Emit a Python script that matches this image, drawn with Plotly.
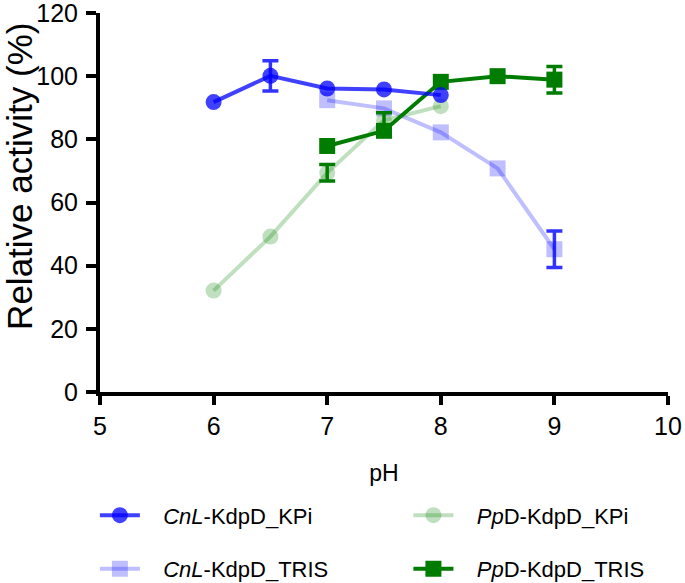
import plotly.graph_objects as go

ph_cnl_kpi = [6, 6.5, 7, 7.5, 8]
cnl_kpi = [91.8, 100.1, 96.1, 95.8, 94.0]
cnl_kpi_err = [None, 4.8, None, None, None]

ph_cnl_tris = [7, 7.5, 8, 8.5, 9]
cnl_tris = [92.4, 89.8, 82.2, 70.8, 45.2]
cnl_tris_err = [None, None, None, None, 5.8]

ph_pp_kpi = [6, 6.5, 7, 7.5, 8]
pp_kpi = [32.1, 49.2, 69.4, 86.0, 90.5]
pp_kpi_err = [None, None, 2.6, 2.4, None]

ph_pp_tris = [7, 7.5, 8, 8.5, 9]
pp_tris = [77.9, 82.7, 98.2, 100.0, 98.9]
pp_tris_err = [None, None, None, None, 4.2]

x_ticks = [5, 6, 7, 8, 9, 10]
y_ticks = [0, 20, 40, 60, 80, 100, 120]

BLUE = "rgba(0,0,255,0.75)"
BLUE_ERR = "rgba(0,0,255,0.8)"
LBLUE = "rgba(0,0,255,0.25)"
LGREEN = "rgba(0,128,0,0.25)"
GREEN = "#007c00"

FONT = "Liberation Sans, Arial"
PAD = "&nbsp;&nbsp;&nbsp;"

fig = go.Figure()


def add_series(x, y, e, name, color, symbol, err_color, legend, rank):
    fig.add_trace(go.Scatter(
        x=x, y=y, name=PAD + name, mode="lines+markers",
        line=dict(color=color, width=4), marker=dict(symbol=symbol, size=16, color=color),
        legend=legend, legendrank=rank, legendgroup=name))
    ex = [xi for xi, ei in zip(x, e) if ei is not None]
    ey = [yi for yi, ei in zip(y, e) if ei is not None]
    ee = [ei for ei in e if ei is not None]
    fig.add_trace(go.Scatter(
        x=ex, y=ey, mode="markers", marker=dict(size=1, color="rgba(0,0,0,0)"),
        error_y=dict(type="data", array=ee, visible=True, color=err_color, thickness=3.5, width=8),
        showlegend=False, hoverinfo="skip", legendgroup=name, legend=legend))


add_series(ph_cnl_tris, cnl_tris, cnl_tris_err, "<i>CnL</i>-KdpD_TRIS", LBLUE, "square", BLUE_ERR, "legend", 2)
add_series(ph_pp_kpi, pp_kpi, pp_kpi_err, "<i>Pp</i>D-KdpD_KPi", LGREEN, "circle", GREEN, "legend2", 1)
add_series(ph_pp_tris, pp_tris, pp_tris_err, "<i>Pp</i>D-KdpD_TRIS", GREEN, "square", GREEN, "legend2", 2)
add_series(ph_cnl_kpi, cnl_kpi, cnl_kpi_err, "<i>CnL</i>-KdpD_KPi", BLUE, "circle", BLUE_ERR, "legend", 1)

axis_common = dict(
    showline=True, linecolor="black", linewidth=4, ticks="outside",
    tickwidth=4, tickcolor="black", showgrid=False, zeroline=False, automargin=False,
    tickfont=dict(family=FONT, size=25, color="black"), ticklabeloverflow="allow",
)

leg_common = dict(xref="paper", yref="container", xanchor="left", yanchor="top", orientation="v",
                  tracegroupgap=22, font=dict(size=22), bgcolor="rgba(0,0,0,0)", itemwidth=40)

fig.update_layout(
    width=685, height=583,
    margin=dict(l=100, r=17, t=13, b=191),
    plot_bgcolor="white", paper_bgcolor="white",
    font=dict(family=FONT, color="black"),
    xaxis=dict(range=[5, 10], tickvals=x_ticks, ticklen=9, ticklabelstandoff=0,
               title=dict(text="pH", font=dict(size=23), standoff=27), **axis_common),
    yaxis=dict(range=[0, 120], tickvals=y_ticks, ticklen=10, ticklabelstandoff=3, **axis_common),
    annotations=[dict(text="Relative activity (%)", textangle=-90, xref="paper", yref="paper",
                      x=-0.141, y=0.57, xanchor="center", yanchor="middle", showarrow=False,
                      font=dict(family=FONT, size=35, color="black"))],
    legend=dict(x=-0.009, y=0.152, **leg_common),
    legend2=dict(x=0.543, y=0.152, **leg_common),
    showlegend=True,
)

fig.write_html("out.html", config={"displayModeBar": False},
               post_script="document.body.style.margin='0px';")
